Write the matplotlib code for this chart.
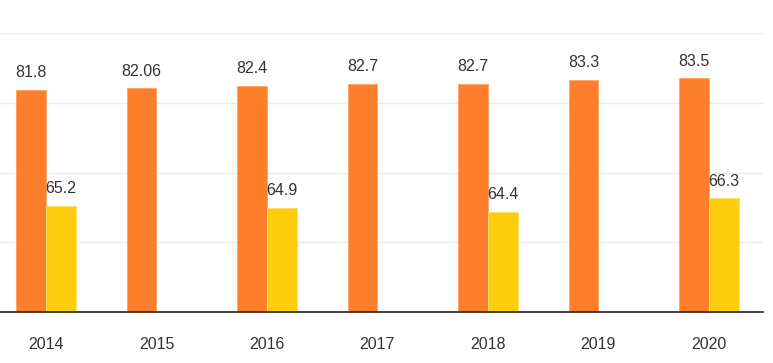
import matplotlib.pyplot as plt
import numpy as np

plt.rcParams['font.family'] = ['Liberation Sans', 'DejaVu Sans']

years = ['2014', '2015', '2016', '2017', '2018', '2019', '2020']
series_a = [81.8, 82.06, 82.4, 82.7, 82.7, 83.3, 83.5]
series_b = [65.2, None, 64.9, None, 64.4, None, 66.3]
labels_a = ['81.8', '82.06', '82.4', '82.7', '82.7', '83.3', '83.5']
labels_b = ['65.2', '', '64.9', '', '64.4', '', '66.3']

orange = '#fd7f2c'
yellow = '#fdcc0d'

fig = plt.figure(figsize=(7.73, 3.63), dpi=100)
ax = fig.add_axes([0, 0.1405, 763 / 773, 0.909 - 0.1405])

x = np.arange(len(years))
w = 0.27

bars_a = ax.bar(x - w / 2, series_a, w, color=orange,
                edgecolor='#ffa366', linewidth=0.6, zorder=3)
xb = [xi + w / 2 for xi, v in zip(x, series_b) if v is not None]
vb = [v for v in series_b if v is not None]
lb = [l for l in labels_b if l]
bars_b = ax.bar(xb, vb, w, color=yellow, edgecolor='#ffe066',
                linewidth=0.6, zorder=3)

for b, t in zip(bars_a, labels_a):
    ax.annotate(t, (b.get_x() + b.get_width() / 2, b.get_height()),
                xytext=(0, 7), textcoords='offset points', ha='center',
                va='bottom', fontsize=11.5, color='#333333')
for b, t in zip(bars_b, lb):
    ax.annotate(t, (b.get_x() + b.get_width() / 2, b.get_height()),
                xytext=(0, 7), textcoords='offset points', ha='center',
                va='bottom', fontsize=11.5, color='#333333')

ax.set_ylim(50, 90)
ax.set_xlim(-0.416, 6.49)
ax.set_yticks([60, 70, 80, 90])
ax.yaxis.grid(True, color='#ebebeb', linewidth=1, zorder=0)
ax.tick_params(axis='y', left=False, labelleft=False)
ax.set_xticks(x)
ax.set_xticklabels(years, fontsize=11.5, color='#333333')
ax.tick_params(axis='x', length=0, pad=18)
for s in ['top', 'right', 'left']:
    ax.spines[s].set_visible(False)
ax.spines['bottom'].set_color('#333333')
ax.spines['bottom'].set_linewidth(1.3)
ax.spines['bottom'].set_zorder(4)

fig.savefig('out.png', dpi=100)
